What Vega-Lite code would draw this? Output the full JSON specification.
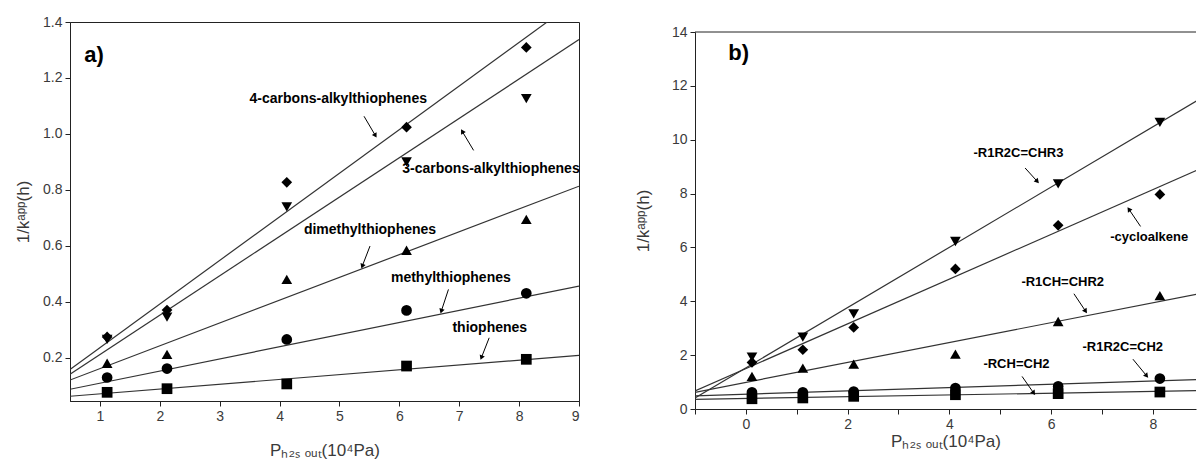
{
  "$schema": "https://vega.github.io/schema/vega-lite/v6.json",
  "padding": {"left": 14, "top": 14, "right": 0, "bottom": 0},
  "background": "white",
  "config": {
    "font": "Liberation Sans",
    "view": {"stroke": "#222"},
    "axis": {"grid": false, "domainColor": "#222", "tickColor": "#222", "labelColor": "#3a3a3a", "labelFont": "Liberation Sans", "labelFontSize": 14, "titleFont": "Liberation Sans", "titleFontWeight": "normal", "titleColor": "#3a3a3a", "titleFontSize": 17, "tickSize": 5, "labelPadding": 3}
  },
  "datasets": {
    "ptsA": [
      {"s": "4-carbons-alkylthiophenes", "x": 1.12, "y": 0.274}, {"s": "4-carbons-alkylthiophenes", "x": 2.12, "y": 0.370}, {"s": "4-carbons-alkylthiophenes", "x": 4.12, "y": 0.827}, {"s": "4-carbons-alkylthiophenes", "x": 6.12, "y": 1.024}, {"s": "4-carbons-alkylthiophenes", "x": 8.12, "y": 1.309},
      {"s": "3-carbons-alkylthiophenes", "x": 1.12, "y": 0.265}, {"s": "3-carbons-alkylthiophenes", "x": 2.12, "y": 0.345}, {"s": "3-carbons-alkylthiophenes", "x": 4.12, "y": 0.739}, {"s": "3-carbons-alkylthiophenes", "x": 6.12, "y": 0.900}, {"s": "3-carbons-alkylthiophenes", "x": 8.12, "y": 1.126},
      {"s": "dimethylthiophenes", "x": 1.12, "y": 0.180}, {"s": "dimethylthiophenes", "x": 2.12, "y": 0.212}, {"s": "dimethylthiophenes", "x": 4.12, "y": 0.480}, {"s": "dimethylthiophenes", "x": 6.12, "y": 0.584}, {"s": "dimethylthiophenes", "x": 8.12, "y": 0.694},
      {"s": "methylthiophenes", "x": 1.12, "y": 0.129}, {"s": "methylthiophenes", "x": 2.12, "y": 0.161}, {"s": "methylthiophenes", "x": 4.12, "y": 0.265}, {"s": "methylthiophenes", "x": 6.12, "y": 0.369}, {"s": "methylthiophenes", "x": 8.12, "y": 0.430},
      {"s": "thiophenes", "x": 1.12, "y": 0.076}, {"s": "thiophenes", "x": 2.12, "y": 0.089}, {"s": "thiophenes", "x": 4.12, "y": 0.106}, {"s": "thiophenes", "x": 6.12, "y": 0.170}, {"s": "thiophenes", "x": 8.12, "y": 0.194}
    ],
    "linesA": [
      {"s": "4-carbons-alkylthiophenes", "x": 0.5, "y": 0.158}, {"s": "4-carbons-alkylthiophenes", "x": 9, "y": 1.483},
      {"s": "3-carbons-alkylthiophenes", "x": 0.5, "y": 0.141}, {"s": "3-carbons-alkylthiophenes", "x": 9, "y": 1.337},
      {"s": "dimethylthiophenes", "x": 0.5, "y": 0.12}, {"s": "dimethylthiophenes", "x": 9, "y": 0.813},
      {"s": "methylthiophenes", "x": 0.5, "y": 0.087}, {"s": "methylthiophenes", "x": 9, "y": 0.456},
      {"s": "thiophenes", "x": 0.5, "y": 0.062}, {"s": "thiophenes", "x": 9, "y": 0.208}
    ],
    "annA": [
      {"label": "4-carbons-alkylthiophenes", "x": 4.98, "y": 1.126},
      {"label": "3-carbons-alkylthiophenes", "x": 7.53, "y": 0.873},
      {"label": "dimethylthiophenes", "x": 5.51, "y": 0.655},
      {"label": "methylthiophenes", "x": 6.86, "y": 0.486},
      {"label": "thiophenes", "x": 7.51, "y": 0.307}
    ],
    "arrA": [
      {"x": 5.6, "y": 0.994, "x0": 5.41, "y0": 1.063, "ang": 149.6},
      {"x": 7.05, "y": 1.009, "x0": 7.24, "y0": 0.941, "ang": -30.7},
      {"x": 5.38, "y": 0.527, "x0": 5.51, "y0": 0.599, "ang": -158.9},
      {"x": 6.70, "y": 0.366, "x0": 6.82, "y0": 0.444, "ang": -161.7},
      {"x": 7.37, "y": 0.200, "x0": 7.50, "y0": 0.271, "ang": -158.6}
    ],
    "ptsB": [
      {"s": "-R1R2C=CHR3", "x": 0.12, "y": 1.93}, {"s": "-R1R2C=CHR3", "x": 1.12, "y": 2.67}, {"s": "-R1R2C=CHR3", "x": 2.12, "y": 3.53}, {"s": "-R1R2C=CHR3", "x": 4.12, "y": 6.22}, {"s": "-R1R2C=CHR3", "x": 6.14, "y": 8.36}, {"s": "-R1R2C=CHR3", "x": 8.14, "y": 10.64},
      {"s": "-cycloalkene", "x": 0.12, "y": 1.73}, {"s": "-cycloalkene", "x": 1.12, "y": 2.20}, {"s": "-cycloalkene", "x": 2.12, "y": 3.03}, {"s": "-cycloalkene", "x": 4.12, "y": 5.20}, {"s": "-cycloalkene", "x": 6.14, "y": 6.82}, {"s": "-cycloalkene", "x": 8.14, "y": 7.97},
      {"s": "-R1CH=CHR2", "x": 0.12, "y": 1.21}, {"s": "-R1CH=CHR2", "x": 1.12, "y": 1.52}, {"s": "-R1CH=CHR2", "x": 2.12, "y": 1.67}, {"s": "-R1CH=CHR2", "x": 4.12, "y": 2.04}, {"s": "-R1CH=CHR2", "x": 6.14, "y": 3.25}, {"s": "-R1CH=CHR2", "x": 8.14, "y": 4.21},
      {"s": "-R1R2C=CH2", "x": 0.12, "y": 0.62}, {"s": "-R1R2C=CH2", "x": 1.12, "y": 0.62}, {"s": "-R1R2C=CH2", "x": 2.12, "y": 0.65}, {"s": "-R1R2C=CH2", "x": 4.12, "y": 0.78}, {"s": "-R1R2C=CH2", "x": 6.14, "y": 0.84}, {"s": "-R1R2C=CH2", "x": 8.14, "y": 1.13},
      {"s": "-RCH=CH2", "x": 0.12, "y": 0.38}, {"s": "-RCH=CH2", "x": 1.12, "y": 0.41}, {"s": "-RCH=CH2", "x": 2.12, "y": 0.47}, {"s": "-RCH=CH2", "x": 4.12, "y": 0.53}, {"s": "-RCH=CH2", "x": 6.14, "y": 0.57}, {"s": "-RCH=CH2", "x": 8.14, "y": 0.63}
    ],
    "linesB": [
      {"s": "-R1R2C=CHR3", "x": -1, "y": 0.41}, {"s": "-R1R2C=CHR3", "x": 9.2, "y": 11.82},
      {"s": "-cycloalkene", "x": -1, "y": 0.67}, {"s": "-cycloalkene", "x": 9.2, "y": 9.14},
      {"s": "-R1CH=CHR2", "x": -1, "y": 0.62}, {"s": "-R1CH=CHR2", "x": 9.2, "y": 4.39},
      {"s": "-R1R2C=CH2", "x": -1, "y": 0.49}, {"s": "-R1R2C=CH2", "x": 9.2, "y": 1.11},
      {"s": "-RCH=CH2", "x": -1, "y": 0.36}, {"s": "-RCH=CH2", "x": 9.2, "y": 0.69}
    ],
    "annB": [
      {"label": "-R1R2C=CHR3", "x": 5.36, "y": 9.51},
      {"label": "-cycloalkene", "x": 7.93, "y": 6.37},
      {"label": "-R1CH=CHR2", "x": 6.23, "y": 4.70},
      {"label": "-RCH=CH2", "x": 5.32, "y": 1.68},
      {"label": "-R1R2C=CH2", "x": 7.41, "y": 2.30}
    ],
    "arrB": [
      {"x": 5.73, "y": 8.45, "x0": 5.49, "y0": 8.95, "ang": 137.9},
      {"x": 7.53, "y": 7.42, "x0": 7.76, "y0": 6.78, "ang": -34.2},
      {"x": 6.68, "y": 3.63, "x0": 6.45, "y0": 4.28, "ang": 146.2},
      {"x": 5.66, "y": 0.59, "x0": 5.43, "y0": 1.21, "ang": 145},
      {"x": 7.88, "y": 1.23, "x0": 7.61, "y0": 1.85, "ang": 140.6}
    ],
    "frameB": [
      {"x": -1, "y": 14, "x0": 8.85, "y0": 14}
    ]
  },
  "bounds": "flush",
  "spacing": 116,
  "resolve": {"scale": {"shape": "independent"}},
  "hconcat": [
    {
      "width": 509,
      "height": 379,
      "encoding": {
        "x": {"field": "x", "type": "quantitative", "scale": {"domain": [0.5, 9], "nice": false, "zero": false}, "axis": {"values": [1, 2, 3, 4, 5, 6, 7, 8, 9], "format": "d", "title": "Pₕ₂ₛ ₒᵤₜ(10⁴Pa)", "titlePadding": 19}},
        "y": {"field": "y", "type": "quantitative", "scale": {"domain": [0.045, 1.4], "nice": false, "zero": false}, "axis": {"values": [0.2, 0.4, 0.6, 0.8, 1.0, 1.2, 1.4], "format": ".1f", "title": "1/kᵃᵖᵖ(h)", "titlePadding": 10}}
      },
      "layer": [
        {"data": {"name": "linesA"}, "mark": {"type": "line", "color": "#333", "strokeWidth": 1.2, "clip": true}, "encoding": {"detail": {"field": "s"}}},
        {"data": {"name": "ptsA"}, "mark": {"type": "point", "filled": true, "color": "black", "opacity": 1, "size": 115}, "encoding": {"shape": {"field": "s", "type": "nominal", "scale": {"domain": ["4-carbons-alkylthiophenes", "3-carbons-alkylthiophenes", "dimethylthiophenes", "methylthiophenes", "thiophenes"], "range": ["diamond", "triangle-down", "triangle-up", "circle", "square"]}, "legend": null}}},
        {"data": {"name": "arrA"}, "mark": {"type": "rule", "color": "black", "strokeWidth": 1}, "encoding": {"x2": {"field": "x0"}, "y2": {"field": "y0"}}},
        {"data": {"name": "arrA"}, "mark": {"type": "point", "shape": "triangle-up", "filled": true, "color": "black", "opacity": 1, "size": 30}, "encoding": {"angle": {"field": "ang", "type": "quantitative", "scale": null}}},
        {"data": {"name": "annA"}, "mark": {"type": "text", "fontWeight": "bold", "fontSize": 14, "color": "black", "font": "Liberation Sans"}, "encoding": {"text": {"field": "label"}}},
        {"data": {"values": [{"label": "a)", "x": 0.9, "y": 1.283}]}, "mark": {"type": "text", "fontWeight": "bold", "fontSize": 22, "color": "black", "font": "Liberation Sans"}, "encoding": {"text": {"field": "label"}}}
      ]
    },
    {
      "width": 501,
      "height": 387,
      "view": {"stroke": null},
      "encoding": {
        "x": {"field": "x", "type": "quantitative", "scale": {"domain": [-1, 8.85], "nice": false, "zero": false}, "axis": {"values": [-1, 0, 1, 2, 3, 4, 5, 6, 7, 8], "labelExpr": "datum.value % 2 === 0 ? datum.label : ''", "title": "Pₕ₂ₛ ₒᵤₜ(10⁴Pa)", "titlePadding": 2}},
        "y": {"field": "y", "type": "quantitative", "scale": {"domain": [0, 14], "range": [387, 10], "nice": false, "zero": false}, "axis": {"values": [0, 2, 4, 6, 8, 10, 12, 14], "title": "1/kᵃᵖᵖ(h)", "titlePadding": 19}}
      },
      "layer": [
        {"data": {"name": "frameB"}, "mark": {"type": "rule", "color": "#222", "strokeWidth": 1}, "encoding": {"x2": {"field": "x0"}, "y2": {"field": "y0"}}},
        {"data": {"name": "linesB"}, "mark": {"type": "line", "color": "#333", "strokeWidth": 1.2, "clip": true}, "encoding": {"detail": {"field": "s"}}},
        {"data": {"name": "ptsB"}, "mark": {"type": "point", "filled": true, "color": "black", "opacity": 1, "size": 115}, "encoding": {"shape": {"field": "s", "type": "nominal", "scale": {"domain": ["-R1R2C=CHR3", "-cycloalkene", "-R1CH=CHR2", "-R1R2C=CH2", "-RCH=CH2"], "range": ["triangle-down", "diamond", "triangle-up", "circle", "square"]}, "legend": null}}},
        {"data": {"name": "arrB"}, "mark": {"type": "rule", "color": "black", "strokeWidth": 1}, "encoding": {"x2": {"field": "x0"}, "y2": {"field": "y0"}}},
        {"data": {"name": "arrB"}, "mark": {"type": "point", "shape": "triangle-up", "filled": true, "color": "black", "opacity": 1, "size": 30}, "encoding": {"angle": {"field": "ang", "type": "quantitative", "scale": null}}},
        {"data": {"name": "annB"}, "mark": {"type": "text", "fontWeight": "bold", "fontSize": 13, "color": "black", "font": "Liberation Sans"}, "encoding": {"text": {"field": "label"}}},
        {"data": {"values": [{"label": "b)", "x": -0.14, "y": 13.22}]}, "mark": {"type": "text", "fontWeight": "bold", "fontSize": 22, "color": "black", "font": "Liberation Sans"}, "encoding": {"text": {"field": "label"}}}
      ]
    }
  ]
}
